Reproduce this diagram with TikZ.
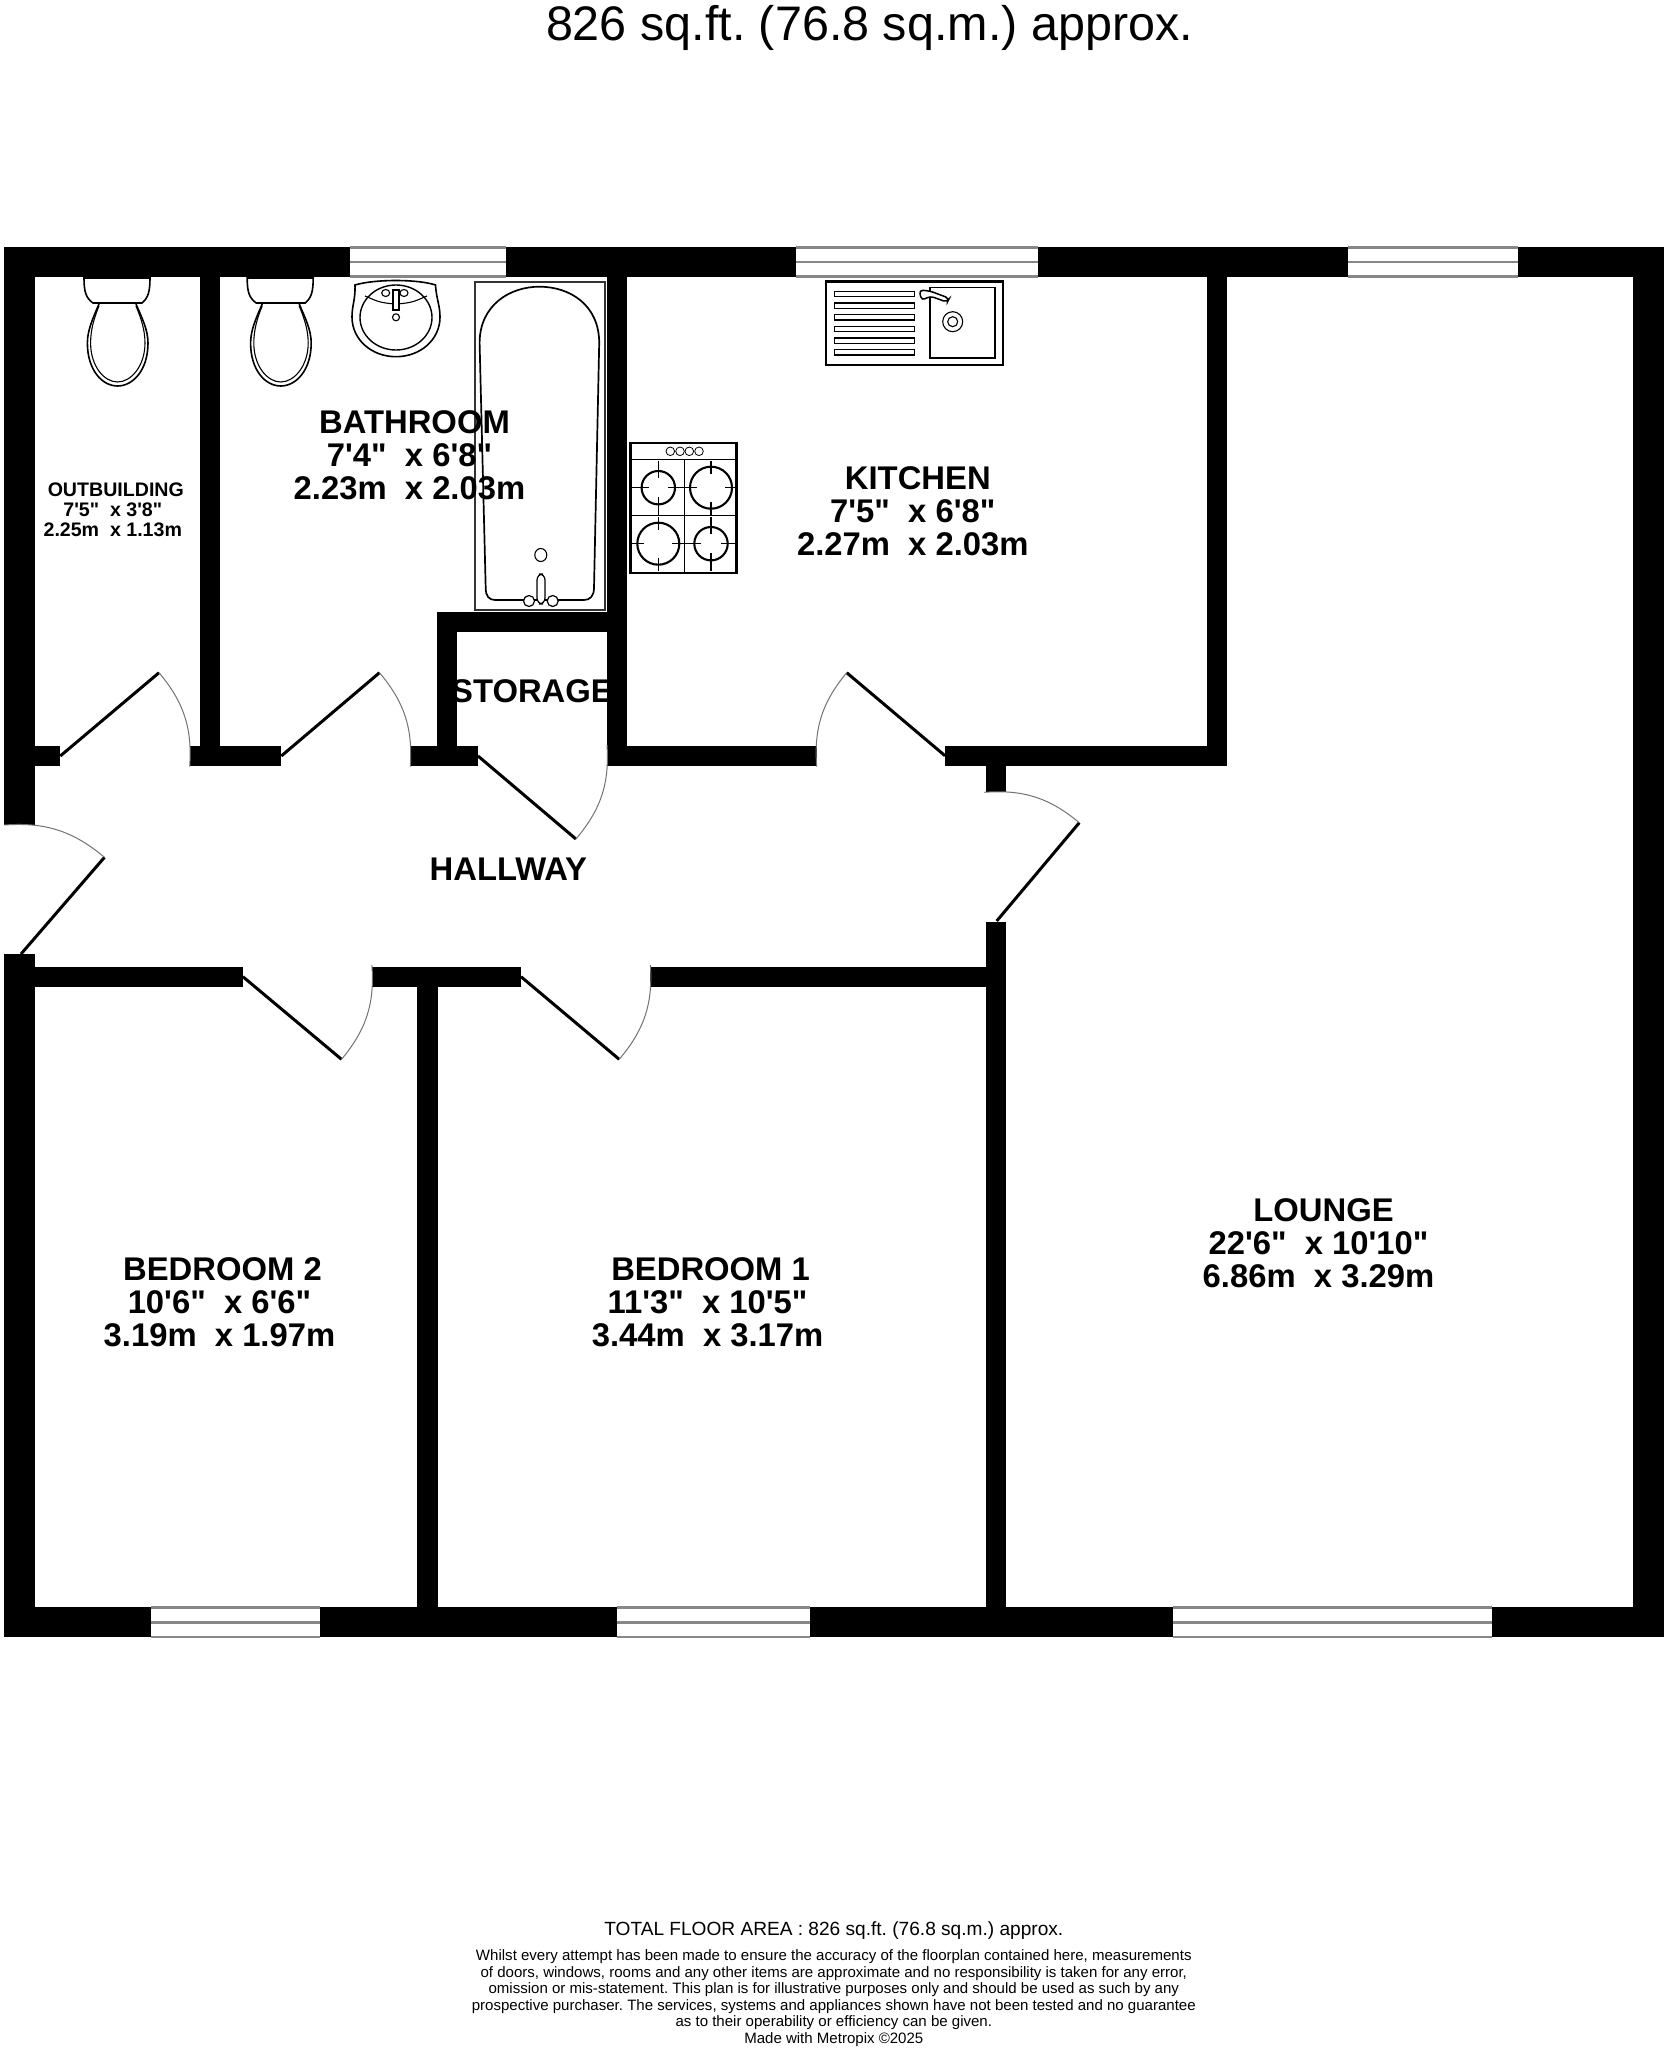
\documentclass[tikz,border=0pt]{standalone}
\usepackage{fontspec}
\newfontfamily\planfont{Liberation Sans}
\tikzset{
  wall/.style={fill=black},
  pane/.style={draw=black!47,line width=1.3pt},
  leaf/.style={draw=black,line width=1.5pt},
  swing/.style={draw=black!55,line width=.5pt},
  fixture/.style={draw=black,line width=.8pt,fill=white},
  thinfix/.style={draw=black,line width=.55pt},
  roomlabel/.style={align=center,inner sep=0pt,font=\planfont\bfseries\frenchspacing\fontsize{16.4}{16.5}\selectfont},
  smalllabel/.style={align=center,inner sep=0pt,font=\planfont\bfseries\frenchspacing\fontsize{9.8}{10}\selectfont},
  notelabel/.style={align=center,inner sep=0pt,font=\planfont\frenchspacing\fontsize{7.52}{8.3}\selectfont}
}
% x1, x2, top of the wall band, bottom of the wall band
\newcommand{\planwindow}[4]{
  \fill[white] (#1,#3) rectangle (#2,#4);
  \draw[pane] (#1,#3) -- (#2,#3);
  \draw[pane] (#1,{(#3+#4)/2}) -- (#2,{(#3+#4)/2});
  \draw[pane] (#1,#4) -- (#2,#4);
}
% hinge, tip, end of the arc, bend
\newcommand{\swingdoor}[4]{
  \draw[leaf] (#1) -- (#2);
  \draw[swing] (#2) to[#4] (#3);
}
\newcommand{\hobring}[3]{
  \draw[line width=1.05pt] (#1,#2) ellipse ({#3} and {#3});
  \foreach \a in {0,90,180,270}
    \draw[thinfix] ([shift={(\a:{#3-7})}]#1,#2) -- ([shift={(\a:27)}]#1,#2);
}
\newcommand{\wcpan}[1]{
  \begin{scope}[shift={(#1,0)}]
    \draw[thinfix,line width=.8pt] (99,304) .. controls (93,318) and (87.4,330) .. (87.4,343) .. controls (87.4,370) and (102,386) .. (117.6,386) .. controls (133,386) and (148,370) .. (148,343) .. controls (148,330) and (142,318) .. (136,304);
    \draw[thinfix] (99,306) .. controls (94,318) and (90.6,330) .. (90.6,343) .. controls (90.6,366) and (104,382) .. (117.6,382) .. controls (131,382) and (145,366) .. (145,343) .. controls (145,330) and (141,318) .. (136,306);
    \draw[fixture] (84,278) -- (150,278) .. controls (150,292) and (148,298) .. (142,303) -- (93,303) .. controls (86,298) and (84,292) .. (84,278) -- cycle;
  \end{scope}
}
\begin{document}
\begin{tikzpicture}[x=.5pt,y=-.5pt]
  \useasboundingbox (0,0) rectangle (1666,2048);
  \fill[white] (0,0) rectangle (1666,2048);
  % outer walls
  \fill[wall] (4,246.7) rectangle (1663.6,276.7);
  \fill[wall] (4,1606.7) rectangle (1663.6,1637.3);
  \fill[wall] (4,246.7) rectangle (35,825);
  \fill[wall] (4,954.3) rectangle (35,1637.3);
  \fill[wall] (1633,246.7) rectangle (1663.6,1637.3);
  % inner walls
  \fill[wall] (200.4,276.7) rectangle (220.4,745.7);
  \fill[wall] (35,745.7) rectangle (60.3,766);
  \fill[wall] (189.7,745.7) rectangle (281.3,766);
  \fill[wall] (410.3,745.7) rectangle (478,766);
  \fill[wall] (436.7,611.7) rectangle (456.7,745.7);
  \fill[wall] (436.7,611.7) rectangle (627.3,631.7);
  \fill[wall] (607.3,276.7) rectangle (627.3,766);
  \fill[wall] (607.3,745.7) rectangle (816.7,766);
  \fill[wall] (945,745.7) rectangle (1226.8,766);
  \fill[wall] (1206.5,276.7) rectangle (1226.8,766);
  \fill[wall] (986,766) rectangle (1006,792.3);
  \fill[wall] (986,921.7) rectangle (1006,1637.3);
  \fill[wall] (34,966.7) rectangle (242.9,986.7);
  \fill[wall] (371.9,966.7) rectangle (521,986.7);
  \fill[wall] (650.4,966.7) rectangle (986,986.7);
  \fill[wall] (417.4,986.7) rectangle (437.5,1606.7);
  % windows
  \planwindow{349.8}{506}{247.5}{276.7}
  \planwindow{796}{1038.3}{247.5}{276.7}
  \planwindow{1348.3}{1518.3}{247.5}{276.7}
  \planwindow{151}{320.3}{1607.5}{1637}
  \planwindow{616.5}{810}{1607.5}{1637}
  \planwindow{1172.6}{1491.6}{1607.5}{1637}
  % doors
  \swingdoor{60.3,756}{159,672.7}{189.7,766.7}{bend left=22}
  \swingdoor{281.3,756}{379.5,672.7}{410.3,766.7}{bend left=22}
  \swingdoor{478,756}{575.9,839}{607,745}{bend right=22}
  \swingdoor{945,755.7}{846.7,672.7}{816.7,766.7}{bend right=22}
  \swingdoor{996.7,921}{1079.3,822.7}{984.3,792.3}{bend right=22}
  \swingdoor{21,954}{104.5,857.3}{4.5,825}{bend right=22}
  \swingdoor{242.9,976.7}{341.5,1059.3}{371.9,965}{bend right=22}
  \swingdoor{521,976.7}{619.2,1059.3}{650.4,965}{bend right=22}
  % toilets
  \wcpan{0}
  \wcpan{163.2}
  % basin
  \draw[fixture] (355,285) .. controls (375,279) and (417,279) .. (435.5,285) .. controls (436.5,300) and (440,305) .. (440,317) .. controls (440,340) and (420,356.7) .. (396,356.7) .. controls (372,356.7) and (352,340) .. (352,317) .. controls (352,305) and (355.5,300) .. (355,285) -- cycle;
  \draw[thinfix,line width=.7pt] (396,317.5) ellipse (36 and 32.5);
  \draw[thinfix] (365,296) .. controls (375,300) and (378,303) .. (396,304) .. controls (414,303) and (417,300) .. (427,296);
  \draw[fixture,line width=.55pt] (385.7,293) ellipse (4 and 3.5);
  \draw[fixture,line width=.55pt] (404,293) ellipse (4 and 3.5);
  \draw[fixture,line width=.55pt] (393,290) rectangle (399,310);
  \draw[thinfix] (396,317.3) ellipse (3.5 and 3.5);
  % bath
  \draw[thinfix,draw=black!80] (475,282) rectangle (605,610);
  \draw[thinfix,line width=.85pt] (479.6,343) .. controls (479.6,305) and (510,286.7) .. (539.3,286.7) .. controls (570,286.7) and (599.2,305) .. (599.2,343) -- (594,588) .. controls (594,596) and (590,600) .. (584,600) -- (495,600) .. controls (489,600) and (485.7,596) .. (485.7,588) -- cycle;
  \draw[thinfix] (540.8,555) ellipse (6 and 6.5);
  \draw[fixture,line width=.6pt] (529,601) ellipse (5.5 and 5.5);
  \draw[fixture,line width=.6pt] (552.7,601) ellipse (5.5 and 5.5);
  \draw[fixture,line width=.6pt,rounded corners=3pt] (537,604) -- (537,574) -- (545,574) -- (545,604) -- cycle;
  % kitchen sink
  \draw[thinfix,line width=1.2pt] (826,281.7) rectangle (1003,365);
  \foreach \y in {294,305.7,317.3,329,340.7,352.3}
    \draw[thinfix] (834.3,\y-2.7) rectangle (914.3,\y+2.7);
  \draw[thinfix,line width=.75pt] (930,287.3) rectangle (995,358);
  \draw[thinfix] (952.7,321.7) circle (10);
  \draw[thinfix] (952.7,321.7) circle (5);
  \draw[fixture,line width=.75pt,rounded corners=2pt] (919,290) -- (930,291) -- (949.3,298.3) -- (947.3,302.3) -- (930,296) -- (921.7,300.7) -- cycle;
  % hob
  \draw[thinfix,line width=1.2pt] (630.5,443) rectangle (736.5,573);
  \draw[thinfix] (630.5,459.3) -- (736.5,459.3);
  \draw[thinfix] (630.5,515.7) -- (736.5,515.7);
  \draw[thinfix] (684.7,459.3) -- (684.7,573);
  \foreach \x in {670.3,680,689.3,699}
    \draw[thinfix,line width=.4pt] (\x,451.3) circle (4.3);
  \hobring{658.3}{487.7}{16.7}
  \hobring{711}{487.7}{21}
  \hobring{658.3}{543.7}{21}
  \hobring{711}{543.7}{16.7}
  % texts
  \node (title) [font=\planfont\frenchspacing\fontsize{24.25}{24}\selectfont,inner sep=0pt] at (869.5,27.5) {826 sq.ft. (76.8 sq.m.) approx.};
  \node (outbuilding) [smalllabel] at (112.8,510) {\hspace*{3pt}OUTBUILDING\\7'5"\ \ x 3'8"\\2.25m\ \ x 1.13m};
  \node (bathroom) [roomlabel] at (409.5,455) {\hspace*{5pt}BATHROOM\\7'4"\ \ x 6'8"\\2.23m\ \ x 2.03m};
  \node (kitchen) [roomlabel] at (912.8,511.7) {\hspace*{5pt}KITCHEN\\7'5"\ \ x 6'8"\\2.27m\ \ x 2.03m};
  \node (storage) [roomlabel] at (532,691.5) {STORAGE};
  \node (hallway) [roomlabel] at (508.3,868.8) {HALLWAY};
  \node (bedroomtwo) [roomlabel] at (219.5,1302) {\hspace*{3pt}BEDROOM 2\\10'6"\ \ x 6'6"\\3.19m\ \ x 1.97m};
  \node (bedroomone) [roomlabel] at (707.6,1302) {\hspace*{3pt}BEDROOM 1\\11'3"\ \ x 10'5"\\3.44m\ \ x 3.17m};
  \node (lounge) [roomlabel] at (1318.5,1243) {\hspace*{5pt}LOUNGE\\22'6"\ \ x 10'10"\\6.86m\ \ x 3.29m};
  \node (floorarea) [font=\planfont\frenchspacing\fontsize{9.55}{10}\selectfont,inner sep=0pt] at (833.8,1930.5) {TOTAL FLOOR AREA : 826 sq.ft. (76.8 sq.m.) approx.};
  \node (disclaimer) [notelabel] at (833.8,1998) {Whilst every attempt has been made to ensure the accuracy of the floorplan contained here, measurements\\of doors, windows, rooms and any other items are approximate and no responsibility is taken for any error,\\omission or mis-statement. This plan is for illustrative purposes only and should be used as such by any\\prospective purchaser. The services, systems and appliances shown have not been tested and no guarantee\\as to their operability or efficiency can be given.\\Made with Metropix \copyright 2025};
\end{tikzpicture}
\end{document}
